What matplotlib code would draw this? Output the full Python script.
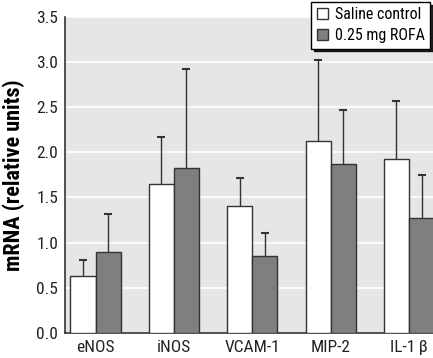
import matplotlib.pyplot as plt
import numpy as np
from matplotlib import font_manager
from matplotlib.patches import Patch

# pick a condensed family close to Helvetica Condensed, if one is installed
names = set(f.name for f in font_manager.fontManager.ttflist)
prefs = ['Liberation Sans Narrow', 'Roboto Condensed', 'Asap Condensed', 'Archivo Narrow', 'Liberation Sans']
base = next(n for n in prefs if n in names)
plt.rcParams['font.family'] = [base, 'DejaVu Sans']

genes = ['eNOS', 'iNOS', 'VCAM-1', 'MIP-2', 'IL-1\u2009\u03b2']
saline = [0.63, 1.65, 1.41, 2.13, 1.93]
saline_err = [0.18, 0.52, 0.31, 0.89, 0.64]
rofa = [0.90, 1.83, 0.85, 1.87, 1.27]
rofa_err = [0.42, 1.09, 0.26, 0.60, 0.48]

fig = plt.figure(figsize=(4.33, 3.58), dpi=100)
ax = fig.add_axes([0.150, 0.070, 0.850, 0.883])
ax.set_facecolor('#e6e6e8')

x = np.arange(len(genes))
w = 0.32
ax.bar(x - w / 2, saline, w, color='white', edgecolor='#333333', linewidth=1, zorder=3)
ax.bar(x + w / 2, rofa, w, color='#7f7f7f', edgecolor='#333333', linewidth=1, zorder=3)
# symmetric errors drawn behind the bars so only the upper half shows
ax.errorbar(x - w / 2, saline, yerr=saline_err, fmt='none',
            ecolor='#333333', elinewidth=1, capsize=3, capthick=1.5, zorder=2)
ax.errorbar(x + w / 2, rofa, yerr=rofa_err, fmt='none',
            ecolor='#333333', elinewidth=1, capsize=3, capthick=1.5, zorder=2)

ax.set_ylim(0, 3.5)
ax.set_xlim(-0.39, 4.306)
ax.set_yticks(np.arange(0, 3.51, 0.5))
ax.set_yticklabels(['%.1f' % v for v in np.arange(0, 3.51, 0.5)])
ax.set_xticks(x)
ax.set_xticklabels(genes)
ax.tick_params(length=0, labelsize=12.5, colors='#222222', pad=5)
ax.yaxis.grid(True, color='white', linewidth=1.2, zorder=0)
ax.set_axisbelow(True)
for s in ['top', 'right']:
    ax.spines[s].set_visible(False)
ax.spines['left'].set_color('#333333')
ax.spines['bottom'].set_color('#333333')
ax.spines['left'].set_linewidth(1.2)
ax.spines['bottom'].set_linewidth(1.2)
ax.set_ylabel('mRNA (relative units)', fontsize=16, fontweight='bold', labelpad=8)

handles = [Patch(facecolor='white', edgecolor='#333333', label='Saline control'),
           Patch(facecolor='#7f7f7f', edgecolor='#333333', label='0.25 mg ROFA')]
leg = fig.legend(handles=handles, loc='upper right', bbox_to_anchor=(0.993, 0.995),
                 fontsize=11.5, frameon=True, fancybox=False,
                 shadow={'color': 'black', 'alpha': 0.85},
                 edgecolor='black', handlelength=0.7, handleheight=0.7,
                 handletextpad=0.4, borderpad=0.35, labelspacing=0.35, borderaxespad=0)
leg.get_frame().set_linewidth(1)

fig.savefig('out.png', dpi=100)
